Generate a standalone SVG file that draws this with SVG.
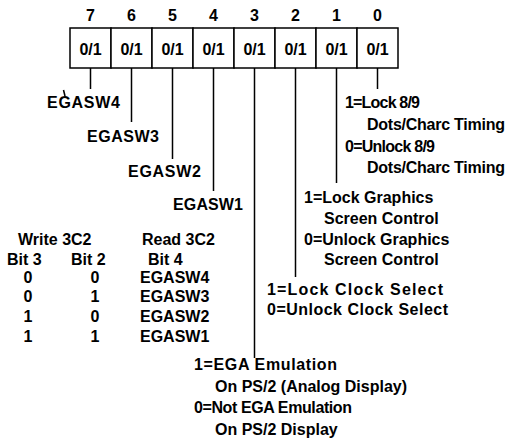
<svg xmlns="http://www.w3.org/2000/svg" width="509" height="448" viewBox="0 0 509 448">
<style>
text{font-family:"Liberation Sans",Arial,sans-serif;font-weight:bold;font-size:16px;fill:#000}
.c{text-anchor:middle}
.cell{fill:#fff;stroke:#000;stroke-width:1.5}
.ln{stroke:#000;stroke-width:1.5;fill:none}
</style>
<rect width="509" height="448" fill="#fff"/>
<g id="register">
<g id="bit7"><rect class="cell" x="70" y="28" width="41" height="40"/><text class="c" x="90.5" y="21">7</text><text class="c" x="90.5" y="55">0/1</text></g>
<g id="bit6"><rect class="cell" x="111" y="28" width="41" height="40"/><text class="c" x="131.5" y="21">6</text><text class="c" x="131.5" y="55">0/1</text></g>
<g id="bit5"><rect class="cell" x="152" y="28" width="41" height="40"/><text class="c" x="172.5" y="21">5</text><text class="c" x="172.5" y="55">0/1</text></g>
<g id="bit4"><rect class="cell" x="193" y="28" width="41" height="40"/><text class="c" x="213.5" y="21">4</text><text class="c" x="213.5" y="55">0/1</text></g>
<g id="bit3"><rect class="cell" x="234" y="28" width="41" height="40"/><text class="c" x="254.5" y="21">3</text><text class="c" x="254.5" y="55">0/1</text></g>
<g id="bit2"><rect class="cell" x="275" y="28" width="41" height="40"/><text class="c" x="295.5" y="21">2</text><text class="c" x="295.5" y="55">0/1</text></g>
<g id="bit1"><rect class="cell" x="316" y="28" width="41" height="40"/><text class="c" x="336.5" y="21">1</text><text class="c" x="336.5" y="55">0/1</text></g>
<g id="bit0"><rect class="cell" x="357" y="28" width="41" height="40"/><text class="c" x="377.5" y="21">0</text><text class="c" x="377.5" y="55">0/1</text></g>
</g>
<g id="connectors">
<path class="ln" d="M90.5 68V89M131.5 68V122M172.5 68V159M213.5 68V191M254.5 68V358M295.5 68V277M336.5 68V183M377.5 68V89"/>
<path class="ln" d="M63.5 90L65 96" stroke-width="1"/>
</g>
<g id="label-egasw4"><text x="47" y="108" textLength="73">EGASW4</text></g>
<g id="label-egasw3"><text x="87" y="142" textLength="72">EGASW3</text></g>
<g id="label-egasw2"><text x="128" y="177" textLength="73">EGASW2</text></g>
<g id="label-egasw1"><text x="173" y="210" textLength="70">EGASW1</text></g>
<g id="label-bit0">
<text x="345" y="108" textLength="75">1=Lock 8/9</text>
<text x="367" y="130" textLength="138">Dots/Charc Timing</text>
<text x="345" y="152" textLength="90">0=Unlock 8/9</text>
<text x="367" y="173" textLength="138">Dots/Charc Timing</text>
</g>
<g id="label-bit1">
<text x="304" y="203">1=Lock Graphics</text>
<text x="324" y="224">Screen Control</text>
<text x="304" y="245">0=Unlock Graphics</text>
<text x="324" y="265">Screen Control</text>
</g>
<g id="label-bit2">
<text x="267" y="295" textLength="176">1=Lock Clock Select</text>
<text x="267" y="315" textLength="181">0=Unlock Clock Select</text>
</g>
<g id="label-bit3">
<text x="194" y="370" textLength="143">1=EGA Emulation</text>
<text x="215" y="392">On PS/2 (Analog Display)</text>
<text x="194" y="413" textLength="158">0=Not EGA Emulation</text>
<text x="215" y="435">On PS/2 Display</text>
</g>
<g id="table">
<text x="18" y="245">Write 3C2</text>
<text x="142" y="245">Read 3C2</text>
<text x="7" y="265">Bit 3</text>
<text x="71" y="265">Bit 2</text>
<text x="148" y="265">Bit 4</text>
<text class="c" x="28" y="283">0</text><text class="c" x="95" y="283">0</text><text x="140" y="283">EGASW4</text>
<text class="c" x="28" y="302">0</text><text class="c" x="95" y="302">1</text><text x="140" y="302">EGASW3</text>
<text class="c" x="28" y="322">1</text><text class="c" x="95" y="322">0</text><text x="140" y="322">EGASW2</text>
<text class="c" x="28" y="342">1</text><text class="c" x="95" y="342">1</text><text x="140" y="342">EGASW1</text>
</g>
</svg>
